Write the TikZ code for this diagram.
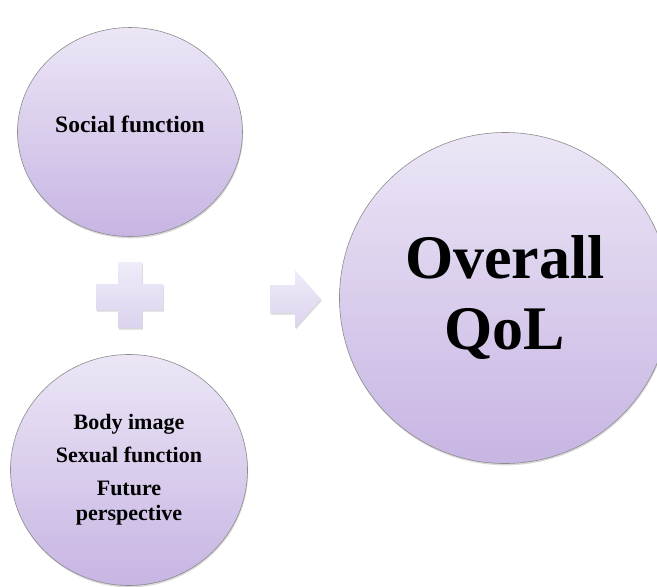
\documentclass[tikz,border=0pt]{standalone}
\usepackage{fontspec}
\setmainfont{Liberation Serif}
\usetikzlibrary{shapes.geometric,shadows}

\definecolor{lavtop}{HTML}{ECE6F6}
\definecolor{lavbot}{HTML}{C7B5E3}
\definecolor{signtop}{HTML}{F0ECF9}
\definecolor{signbot}{HTML}{DBD3EE}
\definecolor{rim}{HTML}{8C8C8C}

\tikzset{
  bubble/.style={ellipse, draw=rim, line width=0.6pt, top color=lavtop, bottom color=lavbot,
    inner sep=0pt, align=center, font=\bfseries,
    drop shadow={shadow xshift=0.6pt, shadow yshift=-1.8pt, opacity=0.25, fill=black!60}},
  sign/.style={top color=signtop, bottom color=signbot, draw=none,
    drop shadow={shadow xshift=0.8pt, shadow yshift=-1.5pt, opacity=0.25, fill=black!60}}
}

\begin{document}
\begin{tikzpicture}[x=1pt,y=-1pt]
  \useasboundingbox (0,0) rectangle (657,587);
  \clip (0,0) rectangle (657,587);

  % Define the centres of the bubbles
  \coordinate (socialc) at (130,132);
  \coordinate (bodyc) at (129,470);
  \coordinate (qolc) at (505,298);

  % Draw the bubbles
  \node[bubble, minimum width=225pt, minimum height=209pt,
        label={[font=\bfseries\fontsize{23.5}{26}\selectfont, yshift=8pt]center:Social function}]
        (social) at (socialc) {};
  \node[bubble, minimum width=237pt, minimum height=231pt,
        font=\bfseries\fontsize{22}{25}\selectfont] (body) at (bodyc)
        {Body image\\[8pt]Sexual function\\[8pt]Future\\perspective};
  \node[bubble, minimum width=331pt, minimum height=331pt,
        font=\bfseries\fontsize{62}{71}\selectfont] (qol) at (qolc) {Overall\\QoL};

  % Plus sign between the two bubbles
  \path[sign] (118,262) -- (142,262) -- (142,284) -- (163,284) -- (163,310) -- (142,310)
    -- (142,328) -- (118,328) -- (118,310) -- (96,310) -- (96,284) -- (118,284) -- cycle;

  % Arrow pointing to the result
  \path[sign] (270,285) -- (295,285) -- (295,270) -- (321,299) -- (295,328) -- (295,313)
    -- (270,313) -- cycle;
\end{tikzpicture}
\end{document}
